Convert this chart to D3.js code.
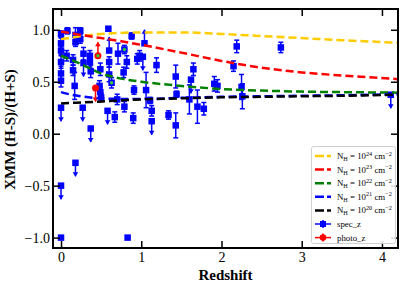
<!DOCTYPE html>
<html>
<head>
<meta charset="utf-8">
<script src="https://cdn.jsdelivr.net/npm/d3@7"></script>
<style>
  body { margin: 0; background: #fff; }
  svg { display: block; }
  text { font-family: "Liberation Serif", "Times New Roman", serif; }
</style>
</head>
<body>
<div id="chart"></div>
<script>
// model curves, sampled along redshift
const zGrid = [0, 0.1, 0.25, 0.5, 0.75, 1, 1.5, 2, 2.5, 3, 3.5, 4.2];
const nh24 = [0.91, 0.92, 0.94, 0.96, 0.97, 0.975, 0.975, 0.96, 0.94, 0.92, 0.90, 0.875];
const nh23 = [0.98, 0.97, 0.95, 0.92, 0.89, 0.855, 0.78, 0.70, 0.635, 0.59, 0.56, 0.525];
const nh22 = [0.75, 0.72, 0.67, 0.58, 0.53, 0.50, 0.46, 0.43, 0.415, 0.405, 0.40, 0.395];
const nh21 = [0.40, 0.38, 0.36, 0.34, 0.335, 0.335, 0.345, 0.355, 0.36, 0.365, 0.37, 0.38];
const nh20 = [0.29, 0.295, 0.30, 0.31, 0.32, 0.33, 0.34, 0.35, 0.355, 0.36, 0.365, 0.375];

const curveNames = ['24', '23', '22', '21', '20'];
const curveColors = ['#ffcc00', '#ff0000', '#008000', '#0000ff', '#000000'];

// sources: [redshift, HR, error, kind]  kind: '' errorbar, 'ul' upper limit, 'll' lower limit
const specPts = [
  [0.00, 0.96, 0.03, ''], [0.00, 0.87, 0.05, ''], [0.00, 0.80, 0.04, ''],
  [0.00, 0.69, 0.06, ''], [0.00, 0.58, 0.07, ''], [0.00, 0.51, 0.06, ''],
  [0.00, 0.25, 0, 'ul'], [0.00, -0.50, 0, 'ul'], [0.00, -1.00, 0, ''],
  [0.08, 0.99, 0.03, ''], [0.07, 0.75, 0.05, ''], [0.15, 0.71, 0.05, ''],
  [0.15, 0.61, 0.05, ''], [0.17, 0.46, 0.13, ''], [0.18, 0.95, 0.07, ''],
  [0.18, 0.88, 0.04, ''], [0.18, -0.28, 0, 'ul'], [0.24, 0.99, 0.03, ''],
  [0.24, 0.91, 0.04, ''], [0.28, 0.77, 0.06, ''], [0.28, 0.68, 0, 'ul'],
  [0.27, 0.25, 0, 'ul'], [0.36, 0.75, 0.05, ''], [0.36, 0.69, 0.05, ''],
  [0.37, 0.60, 0.06, ''], [0.37, 0.05, 0, 'ul'], [0.48, 0.46, 0.05, ''],
  [0.49, 0.40, 0.05, ''], [0.50, 0.35, 0.04, ''], [0.49, 0.62, 0.06, ''],
  [0.59, 1.01, 0.02, ''], [0.60, 0.80, 0, 'll'], [0.60, 0.69, 0.05, ''],
  [0.60, 0.57, 0.07, ''], [0.58, 0.22, 0, 'ul'], [0.63, 0.49, 0.05, ''],
  [0.67, 0.16, 0.05, ''], [0.70, 0.33, 0.05, ''], [0.71, 0.77, 0.10, ''],
  [0.79, 0.81, 0.04, ''], [0.78, 0.59, 0.05, ''], [0.79, 0.26, 0.05, ''],
  [0.82, 0.69, 0.06, ''], [0.83, -1.00, 0, ''], [0.88, 0.94, 0.03, ''],
  [0.91, 0.42, 0.04, ''], [0.90, 0.15, 0.05, ''], [0.95, 0.72, 0.05, ''],
  [0.98, 0.75, 0.05, ''], [1.02, 0.74, 0, 'ul'], [1.04, 0.87, 0, 'll'],
  [1.06, 0.42, 0.17, ''], [1.11, 0.32, 0.03, ''], [1.13, 0.22, 0.05, ''],
  [1.13, 0.12, 0, 'ul'], [1.19, 0.66, 0.07, ''], [1.34, 0.18, 0.04, ''],
  [1.43, 0.55, 0.11, ''], [1.43, 0.08, 0.12, ''], [1.44, 0.38, 0.03, ''],
  [1.60, 0.33, 0.14, ''], [1.62, 0.52, 0, 'ul'], [1.65, 0.62, 0.06, ''],
  [1.70, 0.26, 0.16, ''], [1.78, 0.24, 0.06, ''], [1.91, 0.48, 0.07, ''],
  [1.95, 0.46, 0.06, ''], [2.15, 0.65, 0.05, ''], [2.19, 0.84, 0.06, ''],
  [2.25, 0.45, 0.12, ''], [2.26, 0.36, 0.12, ''], [2.74, 0.83, 0.05, ''],
  [4.11, 0.375, 0, 'ul']
];
const photoPts = [
  [0.46, 0.75, 0, 'll'],
  [0.43, 0.44, 0, 'ul']
];
// sources marked with a green centre
const flaggedPts = [[0.63, 0.49], [0.79, 0.81], [0.46, 0.75]];

const xTicks = [0, 1, 2, 3, 4];
const yTicks = [-1, -0.5, 0, 0.5, 1];

const totalWidth = 407;
const totalHeight = 285;
const margin = { top: 9, right: 9, bottom: 37, left: 53 };
const width = totalWidth - margin.left - margin.right;
const height = totalHeight - margin.top - margin.bottom;
const limLen = 0.13;
const mk = 6.5;

const svg = d3.select('#chart').append('svg')
    .attr('width', totalWidth)
    .attr('height', totalHeight);

const g = svg.append('g')
    .attr('transform', `translate(${margin.left},${margin.top})`);

const x = d3.scaleLinear().domain([-0.1, 4.2]).range([0, width]);
const y = d3.scaleLinear().domain([-1.1, 1.2]).range([height, 0]);

g.append('clipPath').attr('id', 'plotclip')
  .append('rect').attr('width', width).attr('height', height);

const plot = g.append('g').attr('clip-path', 'url(#plotclip)');

function drawPoints(sel, pts, color) {
  pts.forEach(p => {
    const [z, hr, err, kind] = p;
    const cx = x(z), cy = y(hr);
    if (kind === '' && err > 0) {
      sel.append('line')
        .attr('x1', cx).attr('x2', cx).attr('y1', y(hr - err)).attr('y2', y(hr + err))
        .attr('stroke', color).attr('stroke-width', 1.5);
      [hr - err, hr + err].forEach(v => {
        sel.append('line')
          .attr('x1', cx - 2.5).attr('x2', cx + 2.5).attr('y1', y(v)).attr('y2', y(v))
          .attr('stroke', color).attr('stroke-width', 1.5);
      });
    }
    if (kind === 'ul' || kind === 'll') {
      const end = kind === 'ul' ? hr - limLen : hr + limLen;
      const ey = y(end);
      const dir = kind === 'ul' ? 1 : -1;
      sel.append('line')
        .attr('x1', cx).attr('x2', cx).attr('y1', cy).attr('y2', ey)
        .attr('stroke', color).attr('stroke-width', 1.5);
      sel.append('path')
        .attr('d', `M${cx - 2.8},${ey - dir * 4}L${cx},${ey + dir * 0.5}L${cx + 2.8},${ey - dir * 4}Z`)
        .attr('fill', color);
    }
  });
}

const spec = plot.append('g');
drawPoints(spec, specPts, '#0000ff');
spec.selectAll('rect.mk').data(specPts).join('rect')
    .attr('class', 'mk')
    .attr('x', d => x(d[0]) - mk / 2)
    .attr('y', d => y(d[1]) - mk / 2)
    .attr('width', mk).attr('height', mk)
    .attr('fill', '#0000ff');

const photo = plot.append('g');
drawPoints(photo, photoPts, '#ff0000');
photo.selectAll('circle').data(photoPts).join('circle')
    .attr('cx', d => x(d[0]))
    .attr('cy', d => y(d[1]))
    .attr('r', 3.5)
    .attr('fill', '#ff0000');

plot.selectAll('circle.flag').data(flaggedPts).join('circle')
    .attr('class', 'flag')
    .attr('cx', d => x(d[0]))
    .attr('cy', d => y(d[1]))
    .attr('r', 1.7)
    .attr('fill', '#33cc33');

// model curves on top
const curves = [nh24, nh23, nh22, nh21, nh20];
const line = d3.line()
    .x((d, i) => x(zGrid[i]))
    .y(d => y(d))
    .curve(d3.curveMonotoneX);

curves.forEach((c, i) => {
  plot.append('path')
    .datum(c)
    .attr('d', line)
    .attr('fill', 'none')
    .attr('stroke', curveColors[i])
    .attr('stroke-width', 2.5)
    .attr('stroke-dasharray', '8,4');
});

// axes, ticks inward on all four sides
const fmtY = d3.format('.1f');
g.append('g')
  .attr('transform', `translate(0,${height})`)
  .call(d3.axisBottom(x).tickValues(xTicks).tickFormat(d3.format('d')).tickSizeInner(-7).tickSizeOuter(0).tickPadding(4))
  .call(a => a.select('.domain').remove())
  .call(a => a.selectAll('text').attr('font-size', 14).attr('fill', '#000').attr('font-family', '"Liberation Serif", serif'));

g.append('g')
  .call(d3.axisLeft(y).tickValues(yTicks).tickFormat(fmtY).tickSizeInner(-7).tickSizeOuter(0).tickPadding(3))
  .call(a => a.select('.domain').remove())
  .call(a => a.selectAll('text').attr('font-size', 14).attr('fill', '#000').attr('font-family', '"Liberation Serif", serif'));

g.append('g')
  .call(d3.axisTop(x).tickValues(xTicks).tickFormat('').tickSizeInner(-7).tickSizeOuter(0))
  .call(a => a.select('.domain').remove());

g.append('g')
  .attr('transform', `translate(${width},0)`)
  .call(d3.axisRight(y).tickValues(yTicks).tickFormat('').tickSizeInner(-7).tickSizeOuter(0))
  .call(a => a.select('.domain').remove());

g.selectAll('.tick line').attr('stroke', '#000').attr('stroke-width', 1.5);

g.append('rect')
  .attr('width', width).attr('height', height)
  .attr('fill', 'none').attr('stroke', '#000').attr('stroke-width', 2);

// axis labels
svg.append('text')
  .attr('x', margin.left + width / 2).attr('y', 280)
  .attr('text-anchor', 'middle')
  .attr('font-size', 15).attr('font-weight', 'bold')
  .text('Redshift');

svg.append('text')
  .attr('transform', `translate(15,${margin.top + height / 2 + 1}) rotate(-90)`)
  .attr('text-anchor', 'middle')
  .attr('font-size', 15).attr('font-weight', 'bold')
  .text('XMM (H-S)/(H+S)');

// legend
const leg = svg.append('g');
leg.append('rect')
  .attr('x', 311.5).attr('y', 146.5).attr('width', 84).attr('height', 97)
  .attr('rx', 2)
  .attr('fill', '#fff').attr('fill-opacity', 0.85)
  .attr('stroke', '#d0d0d0').attr('stroke-width', 1);

const rowY = i => 156 + i * 13.6;
curveNames.forEach((n, i) => {
  leg.append('line')
    .attr('x1', 315).attr('x2', 331).attr('y1', rowY(i)).attr('y2', rowY(i))
    .attr('stroke', curveColors[i]).attr('stroke-width', 2.5)
    .attr('stroke-dasharray', '9,3');
  const t = leg.append('text')
    .attr('x', 337).attr('y', rowY(i) + 3)
    .attr('font-size', 8.8);
  t.append('tspan').text('N');
  t.append('tspan').attr('font-size', 6.2).attr('dy', 2).text('H');
  t.append('tspan').attr('dy', -2).text(' = 10');
  t.append('tspan').attr('font-size', 6.2).attr('dy', -3.5).text(n);
  t.append('tspan').attr('dy', 3.5).text(' cm');
  t.append('tspan').attr('font-size', 6.2).attr('dy', -3.5).text('\u22122');
});

[['spec_z', '#0000ff', 'rect'], ['photo_z', '#ff0000', 'circle']].forEach((s, j) => {
  const ry = rowY(5 + j);
  leg.append('line')
    .attr('x1', 315).attr('x2', 331).attr('y1', ry).attr('y2', ry)
    .attr('stroke', s[1]).attr('stroke-width', 1.5);
  leg.append('line')
    .attr('x1', 323).attr('x2', 323).attr('y1', ry - 4).attr('y2', ry + 4)
    .attr('stroke', s[1]).attr('stroke-width', 1.5);
  if (s[2] === 'rect') {
    leg.append('rect').attr('x', 320).attr('y', ry - 3).attr('width', 6).attr('height', 6).attr('fill', s[1]);
  } else {
    leg.append('circle').attr('cx', 323).attr('cy', ry).attr('r', 3.3).attr('fill', s[1]);
  }
  leg.append('text')
    .attr('x', 337).attr('y', ry + 3)
    .attr('font-size', 8.8)
    .text(s[0]);
});
</script>
</body>
</html>
